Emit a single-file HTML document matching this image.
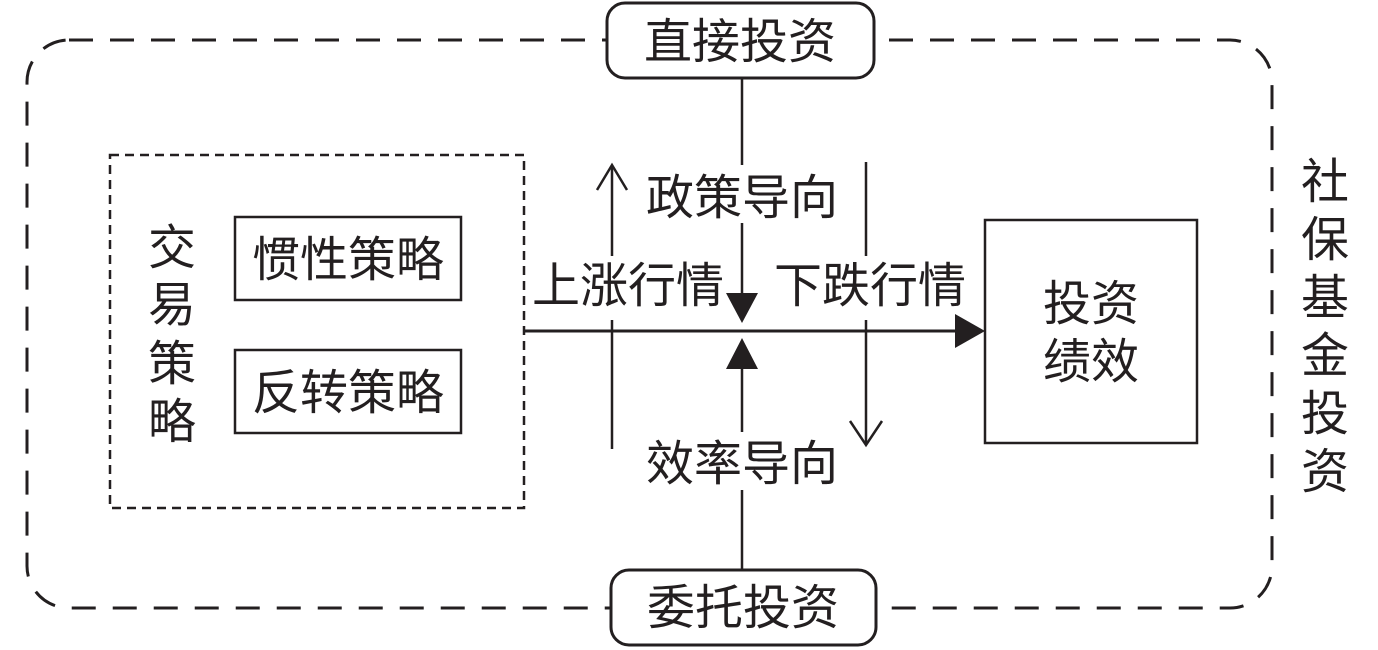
<!DOCTYPE html>
<html><head><meta charset="utf-8"><style>
html,body{margin:0;padding:0;background:#fff;}
svg{display:block;}
text{font-family:"Liberation Sans","Noto Sans CJK SC",sans-serif;fill:#231f20;font-size:48px;}
</style></head><body>
<svg width="1378" height="650" viewBox="0 0 1378 650" xmlns="http://www.w3.org/2000/svg">
<g stroke="#231f20" fill="none">
<rect x="27" y="40" width="1245" height="568" rx="42" stroke-width="3" stroke-dasharray="24,17"/>
<rect x="110" y="155" width="414" height="353" stroke-width="2.5" stroke-dasharray="9,6"/>
<rect x="235" y="217" width="226" height="83" stroke-width="2.5"/>
<rect x="235" y="350" width="226" height="83" stroke-width="2.5"/>
<rect x="985" y="220" width="212" height="223" stroke-width="2.5"/>
<line x1="524" y1="331" x2="958" y2="331" stroke-width="3"/>
<line x1="742" y1="78" x2="742" y2="165" stroke-width="2.5"/>
<line x1="742" y1="223" x2="742" y2="300" stroke-width="2.5"/>
<line x1="742" y1="360" x2="742" y2="432" stroke-width="2.5"/>
<line x1="742" y1="490" x2="742" y2="571" stroke-width="2.5"/>
<line x1="612" y1="165" x2="612" y2="256" stroke-width="2.5"/>
<line x1="612" y1="320" x2="612" y2="449" stroke-width="2.5"/>
<polyline points="597,190 612,165 627,190" stroke-width="2.5"/>
<line x1="866" y1="162" x2="866" y2="256" stroke-width="2.5"/>
<line x1="866" y1="320" x2="866" y2="445" stroke-width="2.5"/>
<polyline points="850,421 866,445 882,421" stroke-width="2.5"/>
<rect x="607" y="3" width="267" height="75" rx="18" stroke-width="3" fill="#fff"/>
<rect x="611" y="570" width="265" height="75" rx="18" stroke-width="3" fill="#fff"/>
</g>
<g fill="#231f20">
<path d="M726,293 L758,293 L742,323 z"/>
<path d="M726,369 L758,369 L742,338 z"/>
<path d="M955,314 L985,331 L955,348 z"/>
</g>
<g text-anchor="middle">
<text x="740" y="58">直接投资</text>
<text x="743" y="624">委托投资</text>
<text x="742" y="214">政策导向</text>
<text x="742" y="480">效率导向</text>
<text x="628" y="302">上涨行情</text>
<text x="870" y="302">下跌行情</text>
<text x="348" y="276">惯性策略</text>
<text x="348" y="409">反转策略</text>
<text x="1091" y="320">投资</text>
<text x="1091" y="378">绩效</text>
<text x="172" y="264">交</text>
<text x="172" y="321">易</text>
<text x="172" y="380">策</text>
<text x="172" y="438">略</text>
<text x="1325" y="198">社</text>
<text x="1325" y="256">保</text>
<text x="1325" y="314">基</text>
<text x="1325" y="372">金</text>
<text x="1325" y="430">投</text>
<text x="1325" y="488">资</text>
</g>
</svg>
</body></html>
